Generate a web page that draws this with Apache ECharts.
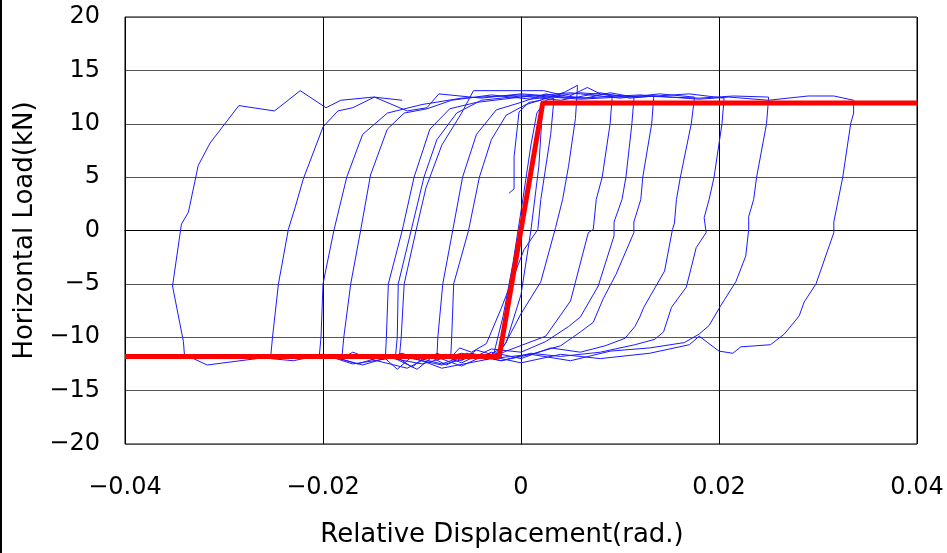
<!DOCTYPE html>
<html><head><meta charset="utf-8">
<script src="https://cdn.jsdelivr.net/npm/echarts@6/dist/echarts.min.js"></script>
<style>html,body{margin:0;padding:0;background:#fff}#c{width:947px;height:553px}</style>
</head><body><div id="c"></div>
<script>
// Axis settings
const xMin = -0.04, xMax = 0.04, xStep = 0.02;
const yMin = -20, yMax = 20, yStep = 5;
const xAxisTitle = 'Relative Displacement(rad.)';
const yAxisTitle = 'Horizontal Load(kN)';

// Bilinear model (red) : [displacement rad, load kN]
const modelDisp = [-0.04, -0.0022, 0.0022, 0.04];
const modelLoad = [-11.8, -11.8, 11.95, 11.95];

// Measured hysteresis, chronological segments : [displacement rad, load kN]
const initialLoading = [[-0.0012,3.5],[-0.0007,3.9],[-0.0007,6.9],[-0.0002,11.1],[0.0008,12.0],[0.0020,12.2]];
const unload0 = [[0.0022,11.8],[0.0018,6],[0.0010,0],[0.0000,-6],[-0.0015,-10.5],[-0.0028,-11.8]];
const reload0 = [[-0.0026,-11.0],[-0.0018,-8],[-0.0008,-3],[0.0002,3],[0.0010,8],[0.0016,11.0],[0.0025,12.2],[0.0033,12.4]];
const unload1 = [[0.0033,12.0],[0.0030,9],[0.0020,2.9],[0.0017,0.1],[0.0003,-1.8],[-0.0020,-7.3],[-0.0035,-10.6],[-0.0050,-11.4],[-0.0062,-11.0],[-0.0071,-11.9]];
const reload1 = [[-0.0070,-10],[-0.0068,-5],[-0.0053,0],[-0.0042,5],[-0.0030,8.5],[-0.0015,10.8],[0.0005,11.8],[0.0030,12.5],[0.0045,13.0],[0.0057,13.6]];
const unload2 = [[0.0057,13.4],[0.0055,10.5],[0.0048,6],[0.0042,2.9],[0.0035,0.3],[0.0020,-4.8],[0.0000,-7.8],[-0.0017,-10.8],[-0.0030,-11.6],[-0.0045,-11.2],[-0.0060,-12.2],[-0.0075,-11.6],[-0.0085,-12.0]];
const reload2 = [[-0.0084,-10],[-0.0079,-5],[-0.0069,0],[-0.0059,5],[-0.0045,9],[-0.0025,11.3],[0.0000,12.0],[0.0025,12.8],[0.0045,12.4],[0.0067,13.4],[0.0080,12.8],[0.0092,12.6]];
const unload3 = [[0.0092,12.4],[0.0090,10],[0.0082,5],[0.0076,2.9],[0.0073,0.1],[0.0068,-0.2],[0.0050,-6.6],[0.0025,-9.9],[0.0005,-10.6],[-0.0015,-11.3],[-0.0035,-12.1],[-0.0055,-11.5],[-0.0075,-12.6],[-0.0095,-11.7],[-0.0110,-12.8],[-0.0123,-12.0]];
const reload3 = [[-0.0121,-10],[-0.0118,-5],[-0.0106,0],[-0.0096,4],[-0.0080,8],[-0.0060,11.0],[-0.0048,13.1],[0.0023,13.1],[0.0045,12.6],[0.0065,12.4],[0.0090,12.9],[0.0114,12.5]];
const unload4 = [[0.0114,12.3],[0.0112,10],[0.0106,5],[0.0102,2.9],[0.0094,0.8],[0.0094,-0.5],[0.0078,-5.2],[0.0060,-8.1],[0.0048,-9.0],[0.0025,-10.4],[0.0000,-11.4],[-0.0030,-11.1],[-0.0060,-12.4],[-0.0085,-11.5],[-0.0105,-13.0],[-0.0127,-12.0]];
const reload4 = [[-0.0125,-10],[-0.0124,-5],[-0.0111,0],[-0.0098,5],[-0.0085,8.5],[-0.0065,11],[-0.0040,12.2],[0.0000,12.6],[0.0040,12.2],[0.0080,12.9],[0.0110,12.4],[0.0134,12.6]];
const unload5 = [[0.0134,12.4],[0.0132,10],[0.0123,5],[0.0121,2.9],[0.0114,0.8],[0.0114,-0.2],[0.0096,-4.1],[0.0083,-6.4],[0.0073,-8.6],[0.0060,-9.5],[0.0040,-10.8],[0.0010,-11.6],[-0.0020,-12.2],[-0.0050,-11.5],[-0.0080,-12.5],[-0.0110,-11.8],[-0.0125,-13.0],[-0.0137,-12.0]];
const reload5 = [[-0.0136,-10],[-0.0134,-5],[-0.0120,0],[-0.0108,5],[-0.0092,9.5],[-0.0072,11.4],[-0.0045,12.0],[0.0000,12.5],[0.0050,12.9],[0.0100,12.4],[0.0140,12.8],[0.0175,12.5]];
const unload6 = [[0.0175,12.3],[0.0172,10],[0.0161,5],[0.0157,2.9],[0.0155,0.7],[0.0153,0.1],[0.0145,-3.8],[0.0124,-7.2],[0.0120,-8.1],[0.0115,-9.0],[0.0105,-10.1],[0.0085,-10.8],[0.0060,-11.4],[0.0030,-11.0],[0.0000,-12.0],[-0.0030,-11.4],[-0.0060,-12.7],[-0.0090,-11.7],[-0.0115,-12.9],[-0.0150,-12.1],[-0.0170,-11.4],[-0.0181,-12.0]];
const reload6 = [[-0.0179,-10],[-0.0172,-5],[-0.0162,0],[-0.0152,5.2],[-0.0135,9.5],[-0.0118,11.0],[-0.0095,11.4],[-0.0070,12.2],[-0.0030,12.7],[0.0010,12.3],[0.0060,12.9],[0.0120,12.5],[0.0170,12.8],[0.0205,12.4]];
const unload7 = [[0.0205,12.2],[0.0203,10],[0.0195,5],[0.0190,2.9],[0.0185,1.2],[0.0187,-0.2],[0.0177,-1.6],[0.0167,-5.3],[0.0152,-7.2],[0.0144,-9.5],[0.0135,-10.2],[0.0115,-10.7],[0.0080,-11.4],[0.0040,-11.8],[0.0010,-11.5],[-0.0020,-12.2],[-0.0060,-11.5],[-0.0100,-12.5],[-0.0140,-11.8],[-0.0165,-12.5],[-0.0190,-11.8],[-0.0204,-12.0]];
const reload7 = [[-0.0202,-10],[-0.0200,-5],[-0.0189,0],[-0.0176,5],[-0.0160,9.0],[-0.0135,11.0],[-0.0100,11.8],[-0.0060,12.4],[0.0000,12.7],[0.0060,12.3],[0.0120,12.6],[0.0180,12.4],[0.0215,12.6],[0.0250,12.5]];
const unload8 = [[0.0250,12.3],[0.0248,10],[0.0238,5],[0.0235,2.9],[0.0230,1.3],[0.0230,0.1],[0.0227,-2.4],[0.0217,-4.8],[0.0202,-7.0],[0.0190,-8.9],[0.0180,-9.7],[0.0165,-10.5],[0.0130,-11.0],[0.0090,-11.3],[0.0050,-12.2],[0.0010,-11.6],[-0.0030,-12.0],[-0.0080,-12.9],[-0.0120,-11.5],[-0.0160,-12.6],[-0.0200,-11.6],[-0.0230,-12.2],[-0.0253,-12.0]];
const reload8 = [[-0.0251,-10],[-0.0245,-5],[-0.0235,0.1],[-0.0228,2.2],[-0.0220,4.8],[-0.0200,9.7],[-0.0185,11.2],[-0.0170,11.5],[-0.0148,12.5],[-0.0115,11.2],[-0.0095,11.5],[-0.0083,12.8],[-0.0040,12.4],[0.0000,12.8],[0.0060,12.4],[0.0120,12.7],[0.0180,12.3],[0.0210,12.5],[0.0250,12.2],[0.0290,12.6],[0.0316,12.6],[0.0336,12.2]];
const unload9 = [[0.0336,11.0],[0.0333,10],[0.0325,5],[0.0316,0.8],[0.0316,-0.2],[0.0298,-5.0],[0.0286,-6.7],[0.0281,-8.0],[0.0266,-9.7],[0.0252,-10.7],[0.0222,-10.9],[0.0214,-11.5],[0.0200,-11.3],[0.0180,-9.9],[0.0170,-10.7],[0.0130,-11.5],[0.0080,-12.0],[0.0040,-11.6],[0.0000,-12.4],[-0.0040,-11.6],[-0.0080,-12.6],[-0.0120,-11.8],[-0.0170,-12.5],[-0.0200,-11.6],[-0.0250,-11.8],[-0.0317,-12.6],[-0.0340,-11.6]];
const reload9 = [[-0.0341,-10.4],[-0.0352,-5.2],[-0.0343,0.6],[-0.0336,1.7],[-0.0326,6.1],[-0.0314,8.2],[-0.0285,11.7],[-0.0249,11.2],[-0.0223,13.1],[-0.0197,11.5],[-0.0182,12.2],[-0.0149,12.5],[-0.0120,12.2]];

const hysteresisSegments = [initialLoading, unload0, reload0, unload1, reload1, unload2, reload2,
  unload3, reload3, unload4, reload4, unload5, reload5, unload6, reload6,
  unload7, reload7, unload8, reload8, unload9, reload9];

const hysteresisData = [].concat(...hysteresisSegments);
const modelData = modelDisp.map((d, i) => [d, modelLoad[i]]);

const FONT = "'DejaVu Sans', sans-serif";
const minus = '\u2212';

const chart = echarts.init(document.getElementById('c'), null, {renderer: 'canvas'});
chart.setOption({
  animation: false,
  backgroundColor: '#fff',
  grid: {left: 125, right: 30, top: 17, bottom: 107, show: true, borderColor: '#000', borderWidth: 1, containLabel: false},
  xAxis: {
    type: 'value', min: xMin, max: xMax, interval: xStep,
    name: xAxisTitle, nameLocation: 'middle', nameGap: 78,
    nameTextStyle: {fontFamily: FONT, fontSize: 26, color: '#000', padding: [0, 38, 0, 0]},
    axisLine: {show: true, lineStyle: {color: '#000', width: 1}},
    axisTick: {show: false},
    axisLabel: {margin: 32, fontFamily: FONT, fontSize: 24, color: '#000',
      formatter: v => v === 0 ? '0' : (v < 0 ? minus : '') + Math.abs(v).toFixed(2)},
    splitLine: {show: true, lineStyle: {color: '#000', width: 1}}
  },
  yAxis: {
    type: 'value', min: yMin, max: yMax, interval: yStep,
    name: yAxisTitle, nameLocation: 'middle', nameGap: 86, nameRotate: 90,
    nameTextStyle: {fontFamily: FONT, fontSize: 26, color: '#000'},
    axisLine: {show: true, lineStyle: {color: '#000', width: 1}},
    axisTick: {show: false},
    axisLabel: {margin: 25, fontFamily: FONT, fontSize: 24, color: '#000',
      formatter: v => (v < 0 ? minus : '') + Math.abs(v)},
    splitLine: {show: true, lineStyle: {color: '#555', width: 1}}
  },
  graphic: [{type: 'rect', left: 0, top: 0, shape: {width: 2, height: 553}, style: {fill: '#000'}, silent: true}],
  series: [
    {type: 'line', data: hysteresisData, showSymbol: false, symbol: 'none',
      lineStyle: {color: '#1a1aff', width: 1}, z: 2},
    {type: 'line', data: modelData, showSymbol: false, symbol: 'none',
      lineStyle: {color: '#ff0000', width: 5}, z: 3}
  ]
});
</script></body></html>
